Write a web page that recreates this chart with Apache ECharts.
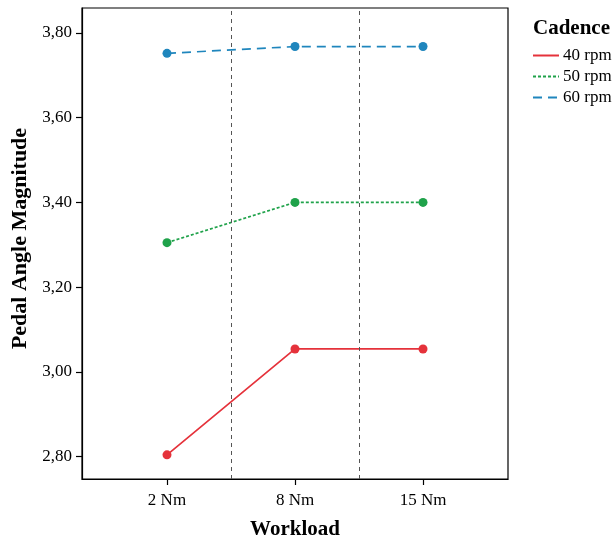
<!DOCTYPE html>
<html>
<head>
<meta charset="utf-8">
<script src="https://cdn.jsdelivr.net/npm/echarts@6/dist/echarts.min.js"></script>
<style>
  html, body { margin: 0; padding: 0; background: #fff; }
  #chart { width: 614px; height: 540px; }
</style>
</head>
<body>
<div id="chart"></div>
<script>
// Workload levels on the x axis
const workloads = ['2 Nm', '8 Nm', '15 Nm'];
// Mean pedal angle magnitude per cadence
const rpm40 = [2.804, 3.054, 3.054];
const rpm50 = [3.305, 3.400, 3.400];
const rpm60 = [3.752, 3.768, 3.768];
// Y tick labels
const yTicks = [2.8, 3.0, 3.2, 3.4, 3.6, 3.8];
// Separators between workload groups
const separators = [0.5, 1.5];

const serif = '"Liberation Serif", "Times New Roman", serif';
const toPairs = arr => arr.map((v, i) => [i, v]);

const chart = echarts.init(document.getElementById('chart'), null, { renderer: 'canvas' });

function lineSeries(name, values, color, dash, extra) {
  return Object.assign({
    name: name,
    type: 'line',
    data: toPairs(values),
    symbol: 'circle',
    symbolSize: 9,
    showSymbol: true,
    itemStyle: { color: color },
    lineStyle: { color: color, width: 1.7, type: dash },
    emphasis: { disabled: true },
    z: 3
  }, extra || {});
}

chart.setOption({
  animation: false,
  backgroundColor: '#fff',
  grid: {
    left: 82, top: 8, right: 106, bottom: 61,
    outerBoundsMode: 'none',
    containLabel: false,
    show: true, borderColor: '#000', borderWidth: 1.2, backgroundColor: 'transparent'
  },
  legend: {
    orient: 'vertical',
    left: 527, top: 42,
    itemWidth: 26, itemHeight: 17, itemGap: 4,
    itemStyle: { opacity: 0 },
    textStyle: { fontFamily: serif, fontSize: 17, color: '#000', padding: [0, 0, 0, -1] },
    data: ['40 rpm', '50 rpm', '60 rpm']
  },
  title: {
    text: 'Cadence', left: 528, top: 13,
    textStyle: { fontFamily: serif, fontSize: 21, fontWeight: 'bold', color: '#000' }
  },
  xAxis: {
    type: 'value',
    min: -0.664, max: 2.664,
    name: 'Workload', nameLocation: 'middle', nameGap: 40,
    nameTextStyle: { fontFamily: serif, fontSize: 21, fontWeight: 'bold', color: '#000' },
    axisLine: { show: true, onZero: false, lineStyle: { color: '#000', width: 1.2 } },
    axisTick: { show: true, length: 6, customValues: [0, 1, 2], lineStyle: { color: '#000', width: 1.2 } },
    axisLabel: {
      customValues: [0, 1, 2],
      formatter: v => workloads[Math.round(v)],
      fontFamily: serif, fontSize: 17, color: '#000', margin: 13
    },
    splitLine: { show: false }
  },
  yAxis: {
    type: 'value',
    min: 2.747, max: 3.859,
    name: 'Pedal Angle Magnitude', nameLocation: 'middle', nameGap: 45,
    nameTextStyle: { fontFamily: serif, fontSize: 22, fontWeight: 'bold', color: '#000', padding: [0, 0, 0, 10] },
    axisLine: { show: true, onZero: false, lineStyle: { color: '#000', width: 1.2 } },
    axisTick: { show: true, length: 6, customValues: yTicks, lineStyle: { color: '#000', width: 1.2 } },
    axisLabel: {
      customValues: yTicks,
      formatter: v => v.toFixed(2).replace('.', ','),
      fontFamily: serif, fontSize: 17, color: '#000', margin: 10
    },
    splitLine: { show: false }
  },
  series: [
    lineSeries('40 rpm', rpm40, '#e5323b', 'solid', {
      markLine: {
        silent: true, symbol: 'none',
        label: { show: false },
        lineStyle: { color: '#555', width: 1, type: [4, 4] },
        data: separators.map(x => ({ xAxis: x }))
      }
    }),
    lineSeries('50 rpm', rpm50, '#1fa24a', [3, 2]),
    lineSeries('60 rpm', rpm60, '#1f86bd', [9, 6])
  ]
});
</script>
</body>
</html>
